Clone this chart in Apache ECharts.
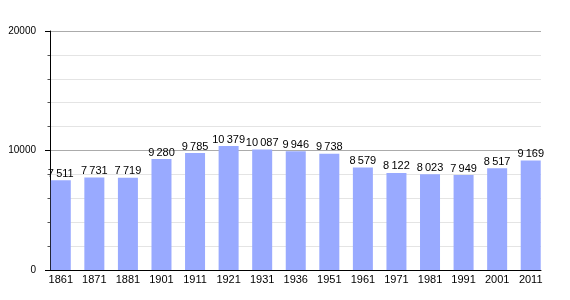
<!DOCTYPE html>
<html><head><meta charset="utf-8">
<script src="https://cdn.jsdelivr.net/npm/echarts@6/dist/echarts.min.js"></script>
<style>html,body{margin:0;padding:0;background:#fff}#c{width:570px;height:300px}</style>
</head><body><div id="c"></div>
<script>
const years = ['1861','1871','1881','1901','1911','1921','1931','1936','1951','1961','1971','1981','1991','2001','2011'];
const population = [7511,7731,7719,9280,9785,10379,10087,9946,9738,8579,8122,8023,7949,8517,9169];
const yMax = 20000;
const yStep = 10000;

function fmt(v){
  const s = String(v);
  return s.length > 3 ? s.slice(0, s.length-3) + '\u2009' + s.slice(-3) : s;
}
const font = 'Liberation Sans, Arial, sans-serif';
const chart = echarts.init(document.getElementById('c'), null, {renderer:'canvas'});
chart.setOption({
  animation:false,
  grid:[
    {left:50, right:29, top:31, bottom:30},
    {left:44, right:22.5, top:31, bottom:30}
  ],
  xAxis:[
    {gridIndex:0, type:'category', data:years, boundaryGap:true,
     axisLine:{show:true, lineStyle:{color:'#000', width:1}},
     axisTick:{show:false}, axisLabel:{show:false}, splitLine:{show:false}},
    {gridIndex:1, type:'category', data:years,
     axisLine:{show:false}, axisTick:{show:false},
     axisLabel:{show:true, interval:0, color:'#000', fontSize:11, fontFamily:font, margin:4}}
  ],
  yAxis:[
    {gridIndex:0, type:'value', min:0, max:yMax, interval:yStep,
     axisLine:{show:true, lineStyle:{color:'#000', width:1}},
     axisTick:{show:true, length:5, lineStyle:{color:'#000'}},
     minorTick:{show:true, splitNumber:5, length:2.5, lineStyle:{color:'#555'}},
     splitLine:{show:true, lineStyle:{color:'#ababab', width:1}},
     minorSplitLine:{show:true, lineStyle:{color:'#e4e4e4', width:1}},
     axisLabel:{color:'#000', fontSize:10, fontFamily:font, margin:14, formatter:v=>String(v)}},
    {gridIndex:1, type:'value', min:0, max:yMax, show:false, splitLine:{show:false}}
  ],
  series:[{
    type:'bar', xAxisIndex:1, yAxisIndex:1, data:population, barWidth:20,
    itemStyle:{color:'#99aaff'},
    label:{show:true, position:'top', distance:1, color:'#000', fontSize:11, fontFamily:font,
      formatter:p=>fmt(p.value)}
  }]
});
</script></body></html>
